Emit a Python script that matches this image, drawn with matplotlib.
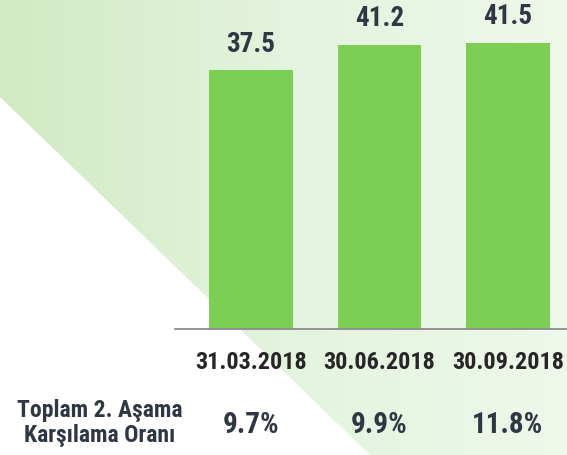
import numpy as np
import matplotlib.pyplot as plt
from matplotlib.patches import Polygon
from matplotlib.colors import LinearSegmentedColormap

# data
dates = ['31.03.2018', '30.06.2018', '30.09.2018']
values = [37.5, 41.2, 41.5]
ratios = ['9.7%', '9.9%', '11.8%']
row_label = 'Toplam 2. Aşama\nKarşılama Oranı'

font = ['Roboto Condensed', 'Archivo Narrow', 'DejaVu Sans']
text_color = '#2f3742'
bar_color = '#7dce55'

W, H = 567, 455
fig = plt.figure(figsize=(W / 100, H / 100), dpi=100)

# green gradient background shape
bg = fig.add_axes([0, 0, 1, 1])
bg.set_xlim(0, 1)
bg.set_ylim(0, 1)
bg.axis('off')
cmap = LinearSegmentedColormap.from_list('bg', ['#d0ebc3', '#e4f3dd', '#eef8eb'])
grad = np.linspace(0, 1, 256).reshape(1, -1)
im = bg.imshow(grad, cmap=cmap, extent=[0, 1, 0, 1], aspect='auto')
shape = Polygon([(0, 1), (1, 1), (1, 0), (370 / W, 0), (0, 1 - 97 / H)],
                closed=True, transform=bg.transAxes, facecolor='none', edgecolor='none')
bg.add_patch(shape)
im.set_clip_path(shape)

# bars
ax = fig.add_axes([175 / W, (H - 329) / H, (W - 175) / W, 329 / H])
ax.patch.set_alpha(0)
x = np.arange(len(dates))
ax.bar(x, values, width=0.65, color=bar_color)
ax.set_xlim(-0.59, 2.46)
ax.set_ylim(0, 47.7)
for s in ['top', 'right', 'left']:
    ax.spines[s].set_visible(False)
ax.spines['bottom'].set_color('#8c8c8c')
ax.spines['bottom'].set_linewidth(1.3)
ax.set_xticks([])
ax.set_yticks([])

for xi, v in zip(x, values):
    ax.annotate(f'{v:.1f}', (xi, v), xytext=(0, 9), textcoords='offset points',
                ha='center', va='bottom', fontsize=19.5, fontweight='bold',
                color=text_color, family=font)

for xi, d, r in zip(x, dates, ratios):
    ax.annotate(d, (xi, 0), xycoords=('data', 'axes fraction'), xytext=(0, -24),
                textcoords='offset points', ha='center', va='center',
                fontsize=17.5, fontweight='bold', color='#262626', family=font)
    ax.annotate(r, (xi, 0), xycoords=('data', 'axes fraction'), xytext=(0, -69),
                textcoords='offset points', ha='center', va='center',
                fontsize=21, fontweight='bold', color=text_color, family=font)

fig.text(100 / W, 1 - 423 / H, row_label, ha='center', va='center',
         fontsize=17, fontweight='bold', color=text_color, family=font,
         linespacing=1.15)

fig.savefig('out.png', dpi=100)
